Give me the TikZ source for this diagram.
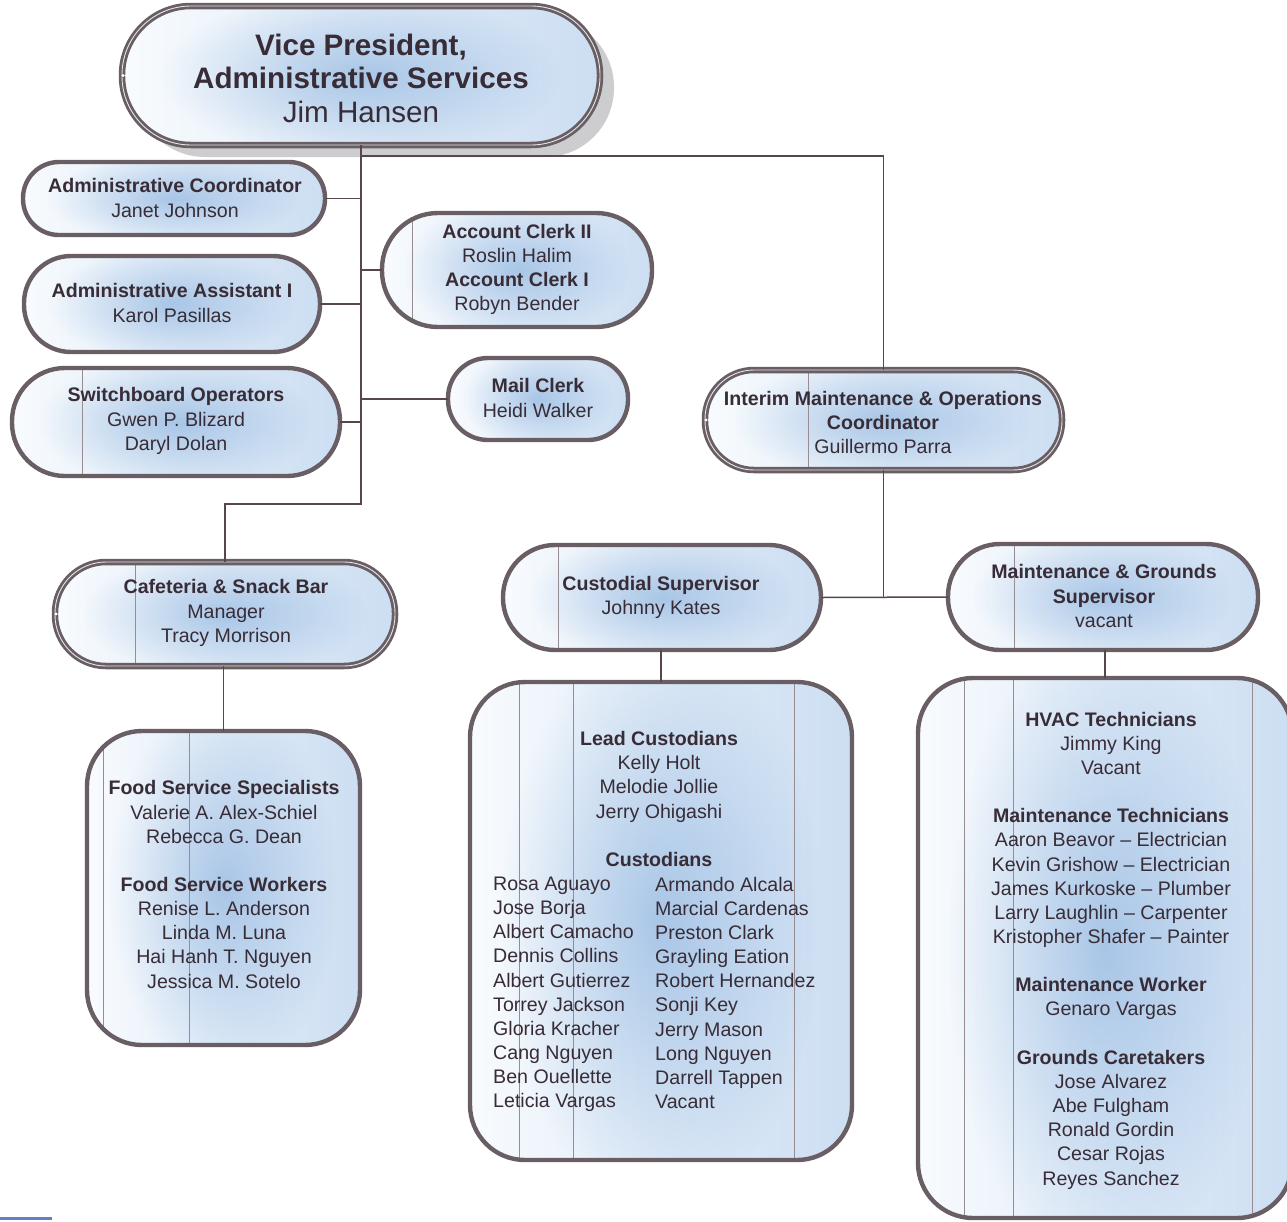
\documentclass[tikz,border=0pt]{standalone}
\usepackage{fontspec}
\setmainfont{Liberation Sans}
\usetikzlibrary{fadings}

\definecolor{bordercol}{RGB}{104,94,99}
\definecolor{linecol}{RGB}{88,70,76}
\definecolor{textcol}{RGB}{56,44,54}
\definecolor{fillleft}{RGB}{248,251,254}
\definecolor{fillright}{RGB}{204,222,242}
\definecolor{blobcol}{RGB}{112,160,214}
\definecolor{rulecol}{RGB}{150,140,146}
\definecolor{shadowcol}{RGB}{205,205,207}

\tikzfading[name=softblob, inner color=transparent!0, outer color=transparent!100]

% #1 border style, #2 name, #3-#6 corners, #7 corner radius, #8 x positions of the thin inner rules
\newcommand{\orgbox}[8][plainborder]{%
  \node[boxframe, minimum width={(#5-#3)*1pt}, minimum height={(#6-#4)*1pt}]
    (#2) at ({(#3+#5)/2},{(#4+#6)/2}) {};
  \begin{scope}
    \clip[rounded corners=#7] (#3,#4) rectangle (#5,#6);
    \fill[left color=fillleft, right color=fillright] (#3,#4) rectangle (#5,#6);
    \fill[blobcol, path fading=softblob, fill opacity=0.5]
      ({(#3+#5)/2},{(#4+#6)/2}) ellipse ({(#5-#3)*0.42} and {(#6-#4)*0.6});
    \foreach \lx in {#8} \draw[innerrule] (\lx,#4) -- (\lx,#6);
  \end{scope}
  \draw[#1, rounded corners=#7] (#3,#4) rectangle (#5,#6);
}

\begin{document}
\begin{tikzpicture}[x=1pt, y=-1pt,
  boxframe/.style={rectangle, inner sep=0pt, outer sep=0pt},
  plainborder/.style={draw=bordercol, line width=4.4pt},
  dblborder/.style={draw=bordercol, line width=2.8pt, double=white!80!gray, double distance=0.9pt},
  innerrule/.style={draw=rulecol, line width=0.8pt},
  conn/.style={draw=linecol, line width=1.5pt},
  txt/.style={align=center, text=textcol, inner sep=0pt, font=\fontsize{19.6}{24.15}\selectfont},
  bigtxt/.style={align=center, text=textcol, inner sep=0pt, font=\fontsize{29.6}{33.5}\selectfont},
  listtxt/.style={align=left, text=textcol, inner sep=0pt, anchor=north west, font=\fontsize{19.6}{24.15}\selectfont},
  nub/.style={fill=white, draw=none}
]
\clip (0,0) rectangle (1287,1221);
\fill[white] (0,0) rectangle (1287,1221);

% shadow behind the top box
\fill[shadowcol, rounded corners=69] (136,18) rectangle (614,157);

% anchor nodes for the connectors (drawn first so frames sit over them)
\node[boxframe, minimum width=478pt, minimum height=139pt] (vpf) at (361,75.5) {};

\path (vpf.south) ++(0,359) coordinate (tj);
\path (vpf.south) ++(0,11) coordinate (tr);

% ---------- boxes ----------
\orgbox[dblborder]{vp}{122}{6}{600}{145}{69}{-50}
\orgbox{ac}{23}{162}{325}{235}{36}{-50}
\orgbox{aa}{24}{256}{320}{352}{47}{-50}
\orgbox{sw}{12}{368}{340}{476}{53}{82}
\orgbox{acct}{382}{213}{652}{327}{56}{412}
\orgbox{mail}{448}{358}{628}{440}{40}{-50}
\orgbox[dblborder]{imo}{705}{370}{1062}{470}{49}{808}
\orgbox[dblborder]{caf}{55}{562}{395}{666}{51}{135}
\orgbox{cs}{503}{545}{821}{650}{52}{558}
\orgbox{mg}{948}{544}{1258}{650}{52}{1014}
\orgbox{food}{87}{731}{360}{1045}{55}{103,189}
\orgbox{cust}{470}{682}{852}{1160}{55}{519,573,794}
\orgbox{maint}{918}{678}{1292}{1218}{55}{964,1013,1252}

% ---------- connectors ----------
\draw[conn] (vp.south) -- (tj) -| (caf.north);
\draw[conn] (tr) -| (imo.north);
\draw[conn] (ac.east) -- (ac.east -| tj);
\draw[conn] (aa.east) -- (aa.east -| tj);
\draw[conn] (sw.east) -- (sw.east -| tj);
\draw[conn] (acct.west) -- (acct.west -| tj);
\draw[conn] (mail.west) -- (mail.west -| tj);
\draw[conn] (imo.south) -- (imo.south |- cs.east);
\draw[conn] (cs.east) -- (mg.west);
\draw[conn] (cust.north) -- (cust.north |- cs.south);
\draw[conn] (maint.north) -- (maint.north |- mg.south);
\draw[conn] (food.north) -- (food.north |- caf.south);

% small marks on the left rim of the double-framed boxes
\foreach \p in {vp.west, imo.west, caf.west}
  \fill[nub] (\p) ++(1,0) circle (1.6) ++(3.5,0) circle (1.6);

% ---------- texts ----------
\node[bigtxt] (vp-t) at (361,78) {\textbf{Vice President,}\\\textbf{Administrative Services}\\Jim Hansen};
\node[txt] (ac-t) at (175,198) {\textbf{Administrative Coordinator}\\Janet Johnson};
\node[txt] (aa-t) at (172,303) {\textbf{Administrative Assistant I}\\Karol Pasillas};
\node[txt] (sw-t) at (176,421) {\textbf{Switchboard Operators}\\Gwen P. Blizard\\Daryl Dolan};
\node[txt] (acct-t) at (517,269.5) {\textbf{Account Clerk II}\\Roslin Halim\\\textbf{Account Clerk I}\\Robyn Bender};
\node[txt] (mail-t) at (538,398) {\textbf{Mail Clerk}\\Heidi Walker};
\node[txt] (imo-t) at (883,422.5) {\textbf{Interim Maintenance \& Operations}\\\textbf{Coordinator}\\Guillermo Parra};
\node[txt] (caf-t) at (226,613) {\textbf{Cafeteria \& Snack Bar}\\Manager\\Tracy Morrison};
\node[txt] (cs-t) at (661,597) {\textbf{Custodial Supervisor}\\Johnny Kates};
\node[txt] (mg-t) at (1104,596) {\textbf{Maintenance \& Grounds}\\\textbf{Supervisor}\\vacant};
\node[txt] (food-t) at (224,884.5) {\textbf{Food Service Specialists}\\Valerie A. Alex-Schiel\\Rebecca G. Dean\\[24.15pt]
  \textbf{Food Service Workers}\\Renise L. Anderson\\Linda M. Luna\\Hai Hanh T. Nguyen\\Jessica M. Sotelo};
\node[txt] (cust-t) at (659,799) {\textbf{Lead Custodians}\\Kelly Holt\\Melodie Jollie\\Jerry Ohigashi\\[24.15pt]\textbf{Custodians}};
\node[listtxt] (cust-l) at (493,876.8) {Rosa Aguayo\\Jose Borja\\Albert Camacho\\Dennis Collins\\Albert Gutierrez\\Torrey Jackson\\Gloria Kracher\\Cang Nguyen\\Ben Ouellette\\Leticia Vargas};
\node[listtxt] (cust-r) at (655,876.8) {Armando Alcala\\Marcial Cardenas\\Preston Clark\\Grayling Eation\\Robert Hernandez\\Sonji Key\\Jerry Mason\\Long Nguyen\\Darrell Tappen\\Vacant};
\node[txt] (maint-t) at (1111,950.5) {\textbf{HVAC Technicians}\\Jimmy King\\Vacant\\[24.15pt]
  \textbf{Maintenance Technicians}\\Aaron Beavor -- Electrician\\Kevin Grishow -- Electrician\\James Kurkoske -- Plumber\\Larry Laughlin -- Carpenter\\Kristopher Shafer -- Painter\\[24.15pt]
  \textbf{Maintenance Worker}\\Genaro Vargas\\[24.15pt]
  \textbf{Grounds Caretakers}\\Jose Alvarez\\Abe Fulgham\\Ronald Gordin\\Cesar Rojas\\Reyes Sanchez};

% short rule at the foot of the sheet
\draw[draw={rgb,255:red,96;green,130;blue,196}, line width=2.5pt] (0,1218.5) -- (52,1218.5);
\end{tikzpicture}
\end{document}
